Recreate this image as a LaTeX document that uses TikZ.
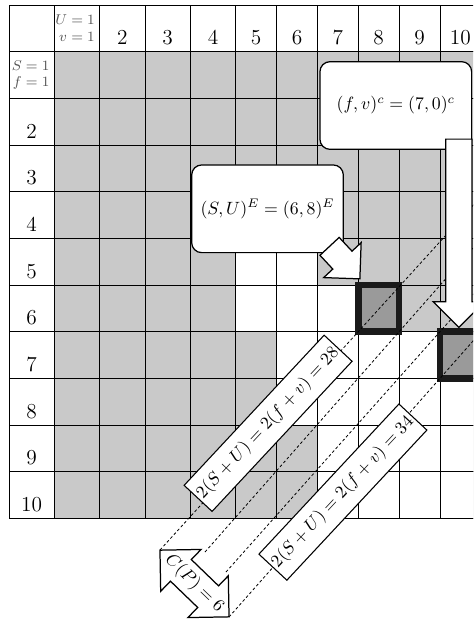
\documentclass[tikz,border=0pt]{standalone}
\usepackage{amsmath}
\usepackage{tikz}
\usetikzlibrary{shapes.arrows, calc}
\newcommand{\pxu}{0.5625pt}
\definecolor{cellgray}{HTML}{C9C9C9}
\definecolor{pickgray}{HTML}{9A9A9A}
\definecolor{rimgray}{HTML}{1A1A1A}
\definecolor{labgray}{HTML}{555555}
\tikzset{
  cell/.style={
    rectangle, anchor=north west,
    minimum height=46.667*\pxu, inner sep=0pt, outer sep=0pt,
    draw=black, line width=0.45pt, fill=cellgray,
  },
  headcell/.style={cell, fill=white},
  free/.style={cell, fill=white, minimum width=40.86*\pxu},
  num/.style={anchor=base, inner sep=0pt, font=\large},
  unit/.style={anchor=east, align=right, inner sep=0pt, font=\footnotesize, text=labgray},
  pick/.style={fill=pickgray, draw=rimgray, line width=3.7pt},
  guide/.style={black, line width=0.45pt, dash pattern=on 1.6pt off 1.3pt},
  note/.style={
    rectangle, rounded corners=5.6pt,
    minimum width=85.3pt, minimum height=49.3pt,
    draw=black, line width=0.7pt, fill=white,
  },
  pointer/.style={
    single arrow, single arrow head extend=7.03pt,
    inner xsep=0pt, inner ysep=7.03pt, anchor=tip,
    draw=black, line width=0.7pt, fill=white,
  },
  dimarrow/.style={
    double arrow, double arrow head extend=7.9pt,
    inner xsep=0pt, inner ysep=8.1pt, minimum height=54pt,
    draw=black, line width=0.7pt, fill=white,
  },
  band/.style={
    rectangle, minimum height=21.5pt, inner xsep=1.5pt,
    draw=black, line width=0.6pt, fill=white,
  },
}

\begin{document}
\begin{tikzpicture}[x=\pxu, y=-\pxu]
  \useasboundingbox (0,0) rectangle (473,623);
  \clip (0,0) rectangle (473,623);
  % table
  \node[headcell, minimum width=45.3*\pxu] (corner) at (9,5) {};
  \foreach \r in {1,...,10}
    \node[headcell, minimum width=45.3*\pxu] (side-\r) at (9,{5+\r*46.667}) {};
  \foreach \c/\x/\w in {1/54.3/45.35, 2/99.65/45.35, 3/145/45.35, 4/190.35/45.35,
      5/235.7/40.86, 6/276.56/40.86, 7/317.42/40.86, 8/358.28/40.86,
      9/399.14/40.86, 10/440/40.86}{
    \node[headcell, minimum width=\w*\pxu] (top-\c) at (\x,5) {};
    \foreach \r in {1,...,10}
      \node[cell, minimum width=\w*\pxu] (cell-\r-\c) at (\x,{5+\r*46.667}) {};
  }
  \foreach \r/\c in {5/5, 5/6, 6/5, 6/6, 6/7, 7/6, 7/7, 7/8, 7/9,
      8/6, 8/7, 8/8, 8/9, 8/10, 9/7, 9/8, 9/9, 9/10, 10/7, 10/8, 10/9, 10/10}
    \node[free] (open-\r-\c) at (cell-\r-\c.north west) {};
  % headings
  \node[unit] (toplab-1) at ($(top-1.east)+(-4.5,0)$) {$U=1$\\$v=1$};
  \node[unit] (sidelab-1) at ($(side-1.east)+(-4.5,0)$) {$S=1$\\$f=1$};
  \foreach \n in {2,...,10}{
    \node[num] (toplab-\n) at ($(top-\n.south)+(0,-6.7)$) {\n};
    \node[num] (sidelab-\n) at ($(side-\n.south)+(0,-6.7)$) {\n};
  }
  % chosen cells
  \draw[pick] (cell-6-8.south west) rectangle (cell-6-8.north east);
  \draw[pick] (cell-7-10.south west) rectangle (cell-7-10.north east);
  % level lines
  \coordinate (a0) at (160,550);
  \coordinate (b0) at (205,552);
  \coordinate (d0) at (226,572);
  \coordinate (c0) at (229,617);
  \draw[guide] (a0) -- ($(a0)!1.65!(cell-6-8.south west)$);
  \draw[guide] (b0) -- ($(b0)!1.5!(cell-6-8.south east)$);
  \draw[guide] (d0) -- ($(d0)!1.3!(cell-7-10.north west)$);
  \draw[guide] (c0) -- ($(c0)!1.3!(cell-7-10.south west)$);
  % callouts
  \node[note] (noteF) at (395.8,105.5) {$(f,v)^c = (7,0)^c$};
  \node[pointer, rotate=-90, minimum height=105.9pt] (arrF)
    at ($(cell-7-10.north)+(-1.6,-3.4)$) {};
  \node[note] (noteE) at (267.5,208.8) {$(S,U)^E = (6,8)^E$};
  \node[pointer, rotate=-47, minimum height=25pt] (arrE)
    at ($(cell-6-8.north west)+(2.2,-5.5)$) {};
  % labels on the lines
  \node[band, rotate=47] (sum28) at (268.1,423.3) {$2(S+U) = 2(f+v) = 28$};
  \node[band, rotate=47] (sum34) at (342.9,492.1) {$2(S+U) = 2(f+v) = 34$};
  \node[dimarrow, rotate=-44] (gap) at ($(a0)!0.5!(c0)$) {};
  \node[rotate=-44, inner sep=0pt] (gaplab) at (gap.center) {$C(P) = 6$};
\end{tikzpicture}
\end{document}
